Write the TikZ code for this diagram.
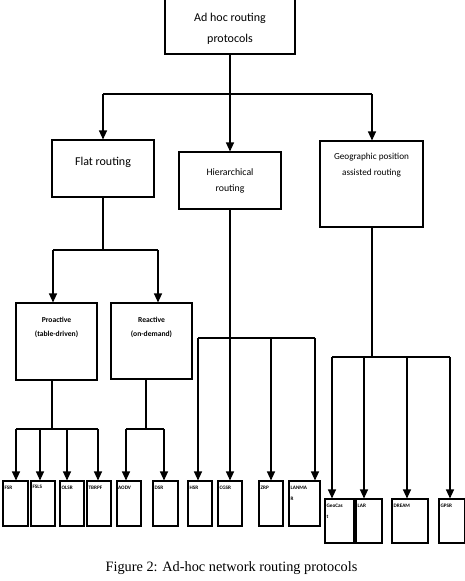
\documentclass[tikz,border=0pt]{standalone}
\usepackage{fontspec}
\setmainfont{Liberation Serif}
\newfontfamily\boxfont{Carlito}
\usetikzlibrary{arrows.meta}
\tikzset{
  box/.style={draw, line width=1.1pt, inner sep=0pt, fill=white},
  wire/.style={line width=1.1pt},
  arr/.style={line width=1.1pt, -{Triangle[length=9pt,width=8pt]}},
  bigtxt/.style={font=\boxfont\fontsize{12}{14}\selectfont, inner sep=0pt},
  midtxt/.style={font=\boxfont\fontsize{9.8}{11}\selectfont, inner sep=0pt},
  geotxt/.style={font=\boxfont\fontsize{9.2}{11}\selectfont, inner sep=0pt},
  smalltxt/.style={font=\boxfont\bfseries\fontsize{7.6}{9}\selectfont, inner sep=0pt},
  tinytxt/.style={font=\boxfont\bfseries\fontsize{5.2}{6}\selectfont, inner sep=0pt, anchor=north west},
}
\begin{document}
\begin{tikzpicture}[x=1pt,y=-1pt]
\useasboundingbox (0,0) rectangle (465,581);
% level boxes
\node[box, minimum width=130pt, minimum height=56pt] (root) at (230,26) {};
\node[bigtxt] (rootA) at (230,18) {Ad hoc routing};
\node[bigtxt] (rootB) at (230,39) {protocols};
\node[box, minimum width=102pt, minimum height=57pt] (flat) at (103,168.5) {};
\node[bigtxt] (flatA) at (103,162) {Flat routing};
\node[box, minimum width=102pt, minimum height=57pt] (hier) at (230,180.5) {};
\node[midtxt] (hierA) at (230,172) {Hierarchical};
\node[midtxt] (hierB) at (230,189) {routing};
\node[box, minimum width=103pt, minimum height=86pt] (geo) at (371.5,184) {};
\node[geotxt] (geoA) at (371.5,157) {Geographic position};
\node[geotxt] (geoB) at (371.5,173) {assisted routing};
\node[box, minimum width=81pt, minimum height=77pt] (pro) at (56.5,341.5) {};
\node[smalltxt] (proA) at (56.5,320) {Proactive};
\node[smalltxt] (proB) at (56.5,334) {(table-driven)};
\node[box, minimum width=81pt, minimum height=76pt] (rea) at (151.5,341) {};
\node[smalltxt] (reaA) at (151.5,320) {Reactive};
\node[smalltxt] (reaB) at (151.5,334) {(on-demand)};
% leaf boxes
\node[box, minimum width=25pt, minimum height=45pt] (fsr) at (15.5,503.5) {};
\node[box, minimum width=24pt, minimum height=45pt] (fsls) at (43,503.5) {};
\node[box, minimum width=24pt, minimum height=45pt] (olsr) at (72,503.5) {};
\node[box, minimum width=24pt, minimum height=45pt] (tbrpf) at (99,503.5) {};
\node[box, minimum width=24pt, minimum height=45pt] (aodv) at (129,503.5) {};
\node[box, minimum width=25pt, minimum height=45pt] (dsr) at (165.5,503.5) {};
\node[box, minimum width=24pt, minimum height=45pt] (hsr) at (200,503.5) {};
\node[box, minimum width=24pt, minimum height=45pt] (cgsr) at (230,503.5) {};
\node[box, minimum width=24pt, minimum height=45pt] (zrp) at (271,503.5) {};
\node[box, minimum width=31pt, minimum height=45pt] (lanmar) at (304.5,503.5) {};
\node[box, minimum width=29pt, minimum height=44pt] (geocast) at (339.5,521) {};
\node[box, minimum width=26pt, minimum height=44pt] (lar) at (369,521) {};
\node[box, minimum width=36pt, minimum height=44pt] (dream) at (410,521) {};
\node[box, minimum width=26pt, minimum height=44pt] (gpsr) at (452,521) {};
% leaf labels
\node[tinytxt] (fsrT) at ([xshift=2pt,yshift=-5pt]fsr.north west) {FSR};
\node[tinytxt] (fslsT) at ([xshift=2pt,yshift=-4pt]fsls.north west) {FSLS};
\node[tinytxt] (olsrT) at ([xshift=2pt,yshift=-5pt]olsr.north west) {OLSR};
\node[tinytxt] (tbrpfT) at ([xshift=2pt,yshift=-5pt]tbrpf.north west) {TBRPF};
\node[tinytxt] (aodvT) at ([xshift=1.5pt,yshift=-5pt]aodv.north west) {AODV};
\node[tinytxt] (dsrT) at ([xshift=2pt,yshift=-5pt]dsr.north west) {DSR};
\node[tinytxt] (hsrT) at ([xshift=2pt,yshift=-5pt]hsr.north west) {HSR};
\node[tinytxt] (cgsrT) at ([xshift=2pt,yshift=-5pt]cgsr.north west) {CGSR};
\node[tinytxt] (zrpT) at ([xshift=2pt,yshift=-5pt]zrp.north west) {ZRP};
\node[tinytxt, align=left] (lanmarT) at ([xshift=2pt,yshift=-5pt]lanmar.north west) {LANMA\\[5pt]R};
\node[tinytxt, align=left] (geocastT) at ([xshift=2pt,yshift=-5pt]geocast.north west) {GeoCas\\[5pt]t};
\node[tinytxt] (larT) at ([xshift=2pt,yshift=-5pt]lar.north west) {LAR};
\node[tinytxt] (dreamT) at ([xshift=2pt,yshift=-5pt]dream.north west) {DREAM};
\node[tinytxt] (gpsrT) at ([xshift=2pt,yshift=-5pt]gpsr.north west) {GPSR};
% bus coordinates
\coordinate (r0) at (230,94);
\coordinate (rL) at (103,94);
\coordinate (rR) at (372,94);
\coordinate (f0) at (103,250);
\coordinate (fL) at (53,250);
\coordinate (fR) at (158,250);
\coordinate (p0) at (52,429);
\coordinate (p1) at (16,429);
\coordinate (p2) at (40,429);
\coordinate (p3) at (67,429);
\coordinate (p4) at (98,429);
\coordinate (q0) at (146,429);
\coordinate (q1) at (126,429);
\coordinate (q2) at (164,429);
\coordinate (h0) at (230,338);
\coordinate (h1) at (198,338);
\coordinate (h2) at (230,338);
\coordinate (h3) at (271,338);
\coordinate (h4) at (315,338);
\coordinate (g0) at (372,357);
\coordinate (g1) at (332,357);
\coordinate (g2) at (364,357);
\coordinate (g3) at (407,357);
\coordinate (g4) at (450,357);
% root tree
\draw[wire] (root.south -| r0) -- (r0);
\draw[wire] (rL) -- (rR);
\draw[arr] (rL) -- (rL |- flat.north);
\draw[arr] (r0) -- (r0 |- hier.north);
\draw[arr] (rR) -- (rR |- geo.north);
% flat
\draw[wire] (flat.south -| f0) -- (f0);
\draw[wire] (fL) -- (fR);
\draw[arr] (fL) -- (fL |- pro.north);
\draw[arr] (fR) -- (fR |- rea.north);
% proactive
\draw[wire] (pro.south -| p0) -- (p0);
\draw[wire] (p1) -- (p4);
\draw[arr] (p1) -- (p1 |- fsr.north);
\draw[arr] (p2) -- (p2 |- fsls.north);
\draw[arr] (p3) -- (p3 |- olsr.north);
\draw[arr] (p4) -- (p4 |- tbrpf.north);
% reactive
\draw[wire] (rea.south -| q0) -- (q0);
\draw[wire] (q1) -- (q2);
\draw[arr] (q1) -- (q1 |- aodv.north);
\draw[arr] (q2) -- (q2 |- dsr.north);
% hierarchical
\draw[wire] (hier.south -| h0) -- (h0);
\draw[wire] (h1) -- (h4);
\draw[arr] (h1) -- (h1 |- hsr.north);
\draw[arr] (h2) -- (h2 |- cgsr.north);
\draw[arr] (h3) -- (h3 |- zrp.north);
\draw[arr] (h4) -- (h4 |- lanmar.north);
% geographic
\draw[wire] (geo.south -| g0) -- (g0);
\draw[wire] (g1) -- (g4);
\draw[arr] (g1) -- (g1 |- geocast.north);
\draw[arr] (g2) -- (g2 |- lar.north);
\draw[arr] (g3) -- (g3 |- dream.north);
\draw[arr] (g4) -- (g4 |- gpsr.north);
% caption
\node[font=\fontsize{14.3}{16}\selectfont, inner sep=0pt] (cap) at (231.5,568) {Figure 2: Ad-hoc network routing protocols};
\end{tikzpicture}
\end{document}
